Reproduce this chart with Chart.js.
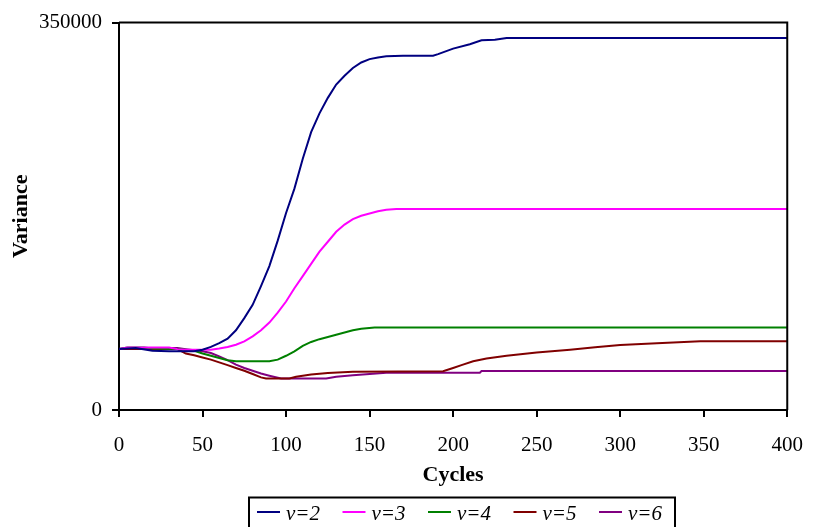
<!DOCTYPE html>
<html><head><meta charset="utf-8">
<script src="https://cdn.jsdelivr.net/npm/chart.js@4"></script>
<style>html,body{margin:0;padding:0;background:#fff;}#wrap{width:819px;height:527px;position:relative;overflow:hidden}</style>
</head><body><div id="wrap"><canvas id="c" width="819" height="527"></canvas></div>
<script>
const seriesLabels = ['v=2', 'v=3', 'v=4', 'v=5', 'v=6'];
const xTicks = [0, 50, 100, 150, 200, 250, 300, 350, 400];
const yTicks = [0, 350000];

const v2Cycles = [0,10,20,30,45,50,55,60,65,70,75,80,85,90,95,100,105,110,115,120,125,130,135,140,145,150,155,160,170,188,191,200,210,217,225,232,400];
const v2Values = [55000,56000,53500,53000,53000,54500,57000,60500,64500,72000,83000,95000,112000,130000,153000,178000,200000,227000,251000,268000,282000,294000,302000,309000,314000,317000,318500,319500,320000,320000,321500,326500,330500,334000,334500,336000,336000];

const v3Cycles = [0,5,30,35,40,55,60,65,70,75,80,85,90,95,100,105,110,115,120,125,130,135,140,145,150,155,160,166,400];
const v3Values = [55000,56500,56500,55000,54500,54500,55500,57000,59000,62000,66500,72000,79000,88000,98000,110000,121000,132000,143000,152000,161000,167500,172500,175500,177500,179500,181000,181700,181700];

const v4Cycles = [0,5,15,20,35,45,50,55,60,65,70,90,95,100,105,110,115,120,125,130,135,140,145,153,400];
const v4Values = [55000,56500,56500,55500,55000,53500,51000,49000,47000,45000,44000,44000,45500,49000,53000,58000,61500,64000,66000,68000,70000,72000,73500,74600,74600];

const v5Cycles = [0,35,40,45,50,55,60,65,70,75,80,85,88,102,106,115,125,140,194,200,205,212,220,232,250,270,285,300,322,348,400];
const v5Values = [55000,55000,51000,49500,47500,45500,43000,40500,38000,35500,32500,29500,28400,28400,30000,32000,33500,34500,35000,38000,40500,44000,46500,49000,52000,54500,56700,58800,60200,62000,62000];

const v6Cycles = [0,5,35,40,50,55,60,65,70,75,80,85,90,97,124,130,140,150,160,216,217,400];
const v6Values = [55000,56000,56000,55000,53000,51500,48500,45000,41000,38000,35500,33000,31000,28400,28400,30000,31500,32500,33700,33700,35200,35200];

const seriesColors = ['#000080', '#FF00FF', '#008000', '#800000', '#800080'];
const allCycles = [v2Cycles, v3Cycles, v4Cycles, v5Cycles, v6Cycles];
const allValues = [v2Values, v3Values, v4Values, v5Values, v6Values];

const datasets = seriesLabels.map((lab, i) => ({
  label: lab,
  data: allCycles[i].map((c, j) => ({x: c, y: allValues[i][j]})),
  borderColor: seriesColors[i],
  backgroundColor: seriesColors[i],
  borderWidth: 2,
  pointRadius: 0,
  fill: false,
  tension: 0
}));

const SERIF = '"Liberation Serif", "Times New Roman", serif';

const framePlugin = {
  id: 'frame',
  afterDatasetsDraw(chart) {
    const {ctx, chartArea: a} = chart;
    ctx.save();
    ctx.strokeStyle = '#000';
    ctx.lineWidth = 2;
    ctx.beginPath();
    ctx.moveTo(a.left, a.top);
    ctx.lineTo(a.right, a.top);
    ctx.lineTo(a.right, a.bottom);
    ctx.stroke();
    ctx.restore();
  }
};

const legendPlugin = {
  id: 'boxLegend',
  afterDraw(chart) {
    const ctx = chart.ctx;
    ctx.save();
    ctx.strokeStyle = '#000';
    ctx.lineWidth = 2;
    ctx.strokeRect(249, 497.5, 426, 45);
    ctx.font = 'italic 21px ' + SERIF;
    ctx.textBaseline = 'middle';
    chart.data.datasets.forEach((ds, i) => {
      const x = 257 + i * 85.5;
      ctx.strokeStyle = ds.borderColor;
      ctx.lineWidth = 2;
      ctx.beginPath();
      ctx.moveTo(x, 512);
      ctx.lineTo(x + 23, 512);
      ctx.stroke();
      ctx.fillStyle = '#000';
      ctx.fillText(ds.label, x + 29, 514);
    });
    ctx.restore();
  }
};

new Chart(document.getElementById('c'), {
  type: 'line',
  data: {datasets},
  plugins: [framePlugin, legendPlugin],
  options: {
    responsive: false,
    animation: false,
    devicePixelRatio: 1,
    layout: {padding: {top: 19, right: 20, left: 0, bottom: 0}},
    plugins: {legend: {display: false}, tooltip: {enabled: false}},
    scales: {
      x: {
        type: 'linear',
        min: 0, max: 400,
        afterBuildTicks: s => { s.ticks = xTicks.map(v => ({value: v})); },
        afterFit: s => { s.height = 117; },
        border: {display: true, color: '#000', width: 2},
        grid: {drawOnChartArea: false, drawTicks: true, tickLength: 7, color: '#000', lineWidth: 2},
        ticks: {color: '#000', padding: 16, maxRotation: 0, font: {family: SERIF, size: 21}, callback: v => String(v)},
        title: {display: true, text: 'Cycles', color: '#000', padding: {top: 4, bottom: 38}, font: {family: SERIF, size: 22, weight: 'bold'}}
      },
      y: {
        type: 'linear',
        min: 0, max: 350000,
        afterBuildTicks: s => { s.ticks = yTicks.map(v => ({value: v})); },
        afterFit: s => { s.width = 119; },
        border: {display: true, color: '#000', width: 2},
        grid: {drawOnChartArea: false, drawTicks: true, tickLength: 7, color: '#000', lineWidth: 2},
        ticks: {color: '#000', padding: 10, font: {family: SERIF, size: 21}, callback: v => String(v)},
        title: {display: true, text: 'Variance', color: '#000', padding: {top: 8, bottom: 4}, font: {family: SERIF, size: 22, weight: 'bold'}}
      }
    }
  }
});
</script>
</body></html>
